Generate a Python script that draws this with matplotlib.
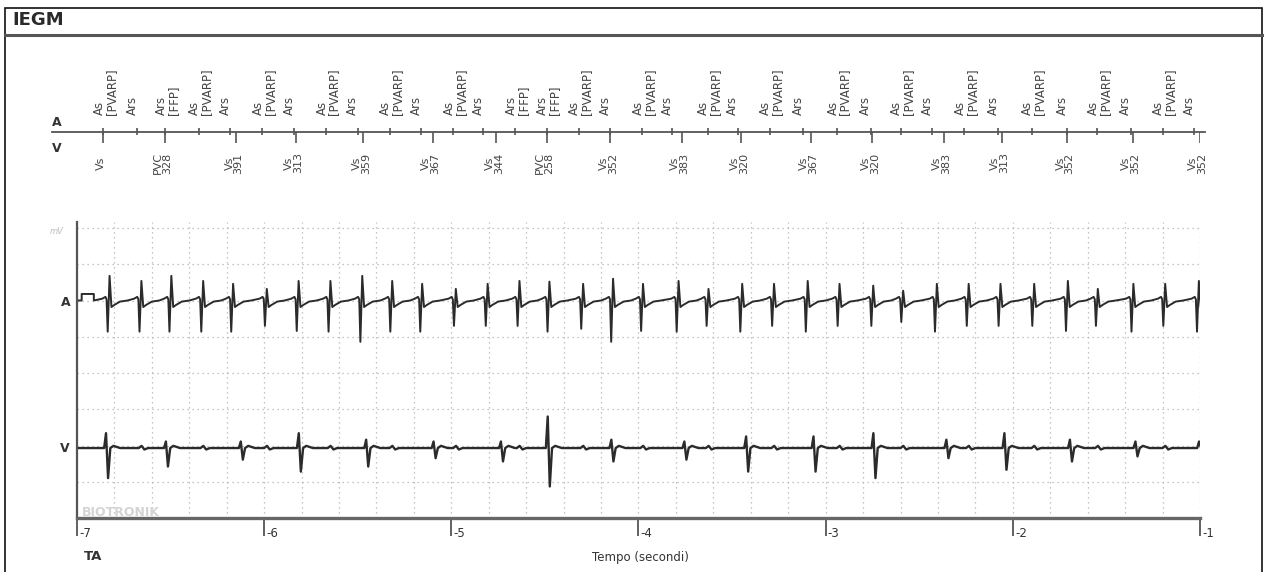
import numpy as np
import matplotlib

matplotlib.use("Agg")
import matplotlib.pyplot as plt
from matplotlib.lines import Line2D
from matplotlib.patches import Rectangle
from matplotlib.ticker import MultipleLocator

W, H = 1265, 572

# --- marker channel (seconds before trigger) ---
a_marker_t = [-6.86, -6.68, -6.53, -6.35, -6.18, -6.01, -5.84, -5.67, -5.50, -5.33,
              -5.16, -4.99, -4.83, -4.66, -4.49, -4.32, -4.15, -3.98, -3.82, -3.63,
              -3.47, -3.30, -3.12, -2.94, -2.76, -2.60, -2.43, -2.26, -2.08, -1.90,
              -1.71, -1.55, -1.37, -1.20, -1.03]
AS, ARS, FFP = "As\n[PVARP]", "Ars", "Ars\n[FFP]"
a_marker_lbl = [AS, ARS, FFP, AS, ARS, AS, ARS, AS, ARS, AS,
                ARS, AS, ARS, FFP, FFP, AS, ARS, AS, ARS, AS,
                ARS, AS, ARS, AS, ARS, AS, ARS, AS, ARS, AS,
                ARS, AS, ARS, AS, ARS]

v_marker_t = [-6.86, -6.53, -6.15, -5.83, -5.47, -5.10, -4.76, -4.49, -4.15, -3.77,
              -3.45, -3.08, -2.75, -2.37, -2.06, -1.71, -1.36, -1.00]
v_marker_lbl = ["Vs", "PVC\n328", "Vs\n391", "Vs\n313", "Vs\n359", "Vs\n367", "Vs\n344",
                "PVC\n258", "Vs\n352", "Vs\n383", "Vs\n320", "Vs\n367", "Vs\n320",
                "Vs\n383", "Vs\n313", "Vs\n352", "Vs\n352", "Vs\n352"]

# --- atrial channel deflections (grid units) ---
a_spike_t = [-6.83, -6.66, -6.50, -6.33, -6.17, -5.99, -5.82, -5.65, -5.48, -5.32,
             -5.16, -4.98, -4.81, -4.64, -4.48, -4.30, -4.14, -3.98, -3.79, -3.63,
             -3.45, -3.28, -3.10, -2.93, -2.75, -2.59, -2.41, -2.24, -2.07, -1.89,
             -1.71, -1.55, -1.36, -1.19, -1.01]
a_spike_up = [0.68, 0.54, 0.68, 0.54, 0.46, 0.32, 0.54, 0.54, 0.68, 0.54,
              0.46, 0.32, 0.46, 0.54, 0.52, 0.46, 0.60, 0.46, 0.54, 0.32,
              0.46, 0.46, 0.54, 0.46, 0.41, 0.27, 0.46, 0.46, 0.46, 0.46,
              0.54, 0.32, 0.46, 0.46, 0.54]
a_spike_down = [0.86, 0.86, 0.86, 0.86, 0.86, 0.70, 0.84, 0.86, 1.14, 0.86,
                0.86, 0.70, 0.70, 0.70, 0.86, 0.78, 1.14, 0.84, 0.86, 0.70,
                0.86, 0.70, 0.86, 0.70, 0.70, 0.59, 0.86, 0.70, 0.70, 0.70,
                0.84, 0.70, 0.86, 0.70, 0.86]
a_pulse_t = [-6.975, -6.91]
a_pulse_h = 0.18

# --- ventricular channel deflections ---
v_spike_t = [-6.84, -6.52, -6.12, -5.81, -5.45, -5.09, -4.73, -4.48, -4.14, -3.75,
             -3.42, -3.06, -2.74, -2.35, -2.04, -1.69, -1.34, -1.00]
v_spike_up = [0.41, 0.18, 0.18, 0.41, 0.23, 0.18, 0.18, 0.87, 0.23, 0.18,
              0.32, 0.32, 0.41, 0.23, 0.41, 0.23, 0.18, 0.18]
v_spike_down = [0.83, 0.51, 0.32, 0.65, 0.51, 0.28, 0.37, 1.06, 0.37, 0.32,
                0.65, 0.65, 0.83, 0.28, 0.60, 0.37, 0.23, 0.0]

time_ticks = [-7, -6, -5, -4, -3, -2, -1]
a_base = 6.0
v_base = 1.93

TRACE = "#2b2b2b"
AXIS = "#555555"
GRID = "#b3b3b3"


def fx(px):
    return px / W


def fy(py):
    return 1 - py / H


def atrial_trace():
    t = [-7.0, a_pulse_t[0], a_pulse_t[0], a_pulse_t[1], a_pulse_t[1]]
    y = [0.0, 0.0, a_pulse_h, a_pulse_h, 0.0]
    for t0, up, dn in zip(a_spike_t, a_spike_up, a_spike_down):
        shape = [(-0.035, 0.05), (-0.018, 0.10), (-0.012, 0.03), (-0.006, -dn),
                 (0.004, up), (0.014, -0.18), (0.03, -0.12), (0.06, -0.03),
                 (0.1, 0.0)]
        for dt, dy in shape:
            t.append(t0 + dt)
            y.append(dy)
    return np.array(t), a_base + np.array(y)


def ventricular_trace():
    knots = [(-7.0, 0.0)]
    for t0, up, dn in zip(v_spike_t, v_spike_up, v_spike_down):
        shape = [(-0.015, 0.0), (-0.005, up), (0.006, -dn), (0.018, 0.0),
                 (0.035, 0.06), (0.07, 0.0)]
        knots += [(t0 + dt, dy) for dt, dy in shape]
    # small far-field atrial wiggles on the ventricular lead
    vt = np.array(v_spike_t)
    for ta in a_spike_t:
        if np.min(np.abs(vt - ta)) < 0.09:
            continue
        knots += [(ta + dt, dy) for dt, dy in
                  [(-0.01, 0.0), (0.005, 0.06), (0.02, -0.04), (0.04, 0.0)]]
    knots.sort()
    t, y = zip(*knots)
    return np.array(t), v_base + np.array(y)


fig = plt.figure(figsize=(W / 100, H / 100), dpi=100)
fig.patch.set_facecolor("white")

# frame + header
fig.add_artist(Rectangle((fx(5), fy(590)), fx(1262) - fx(5), fy(8) - fy(590),
                         transform=fig.transFigure, fill=False, edgecolor="#111111",
                         linewidth=1.2))
fig.add_artist(Line2D([fx(5), fx(1262)], [fy(35), fy(35)], transform=fig.transFigure,
                      color=AXIS, linewidth=2.2))
fig.text(fx(12), fy(20), "IEGM", fontsize=13, fontweight="bold", color="#2a2a2a",
         ha="left", va="center")

# --- marker axis ---
axm = fig.add_axes([fx(77), fy(204), fx(1200) - fx(77), 144 / H])
axm.set_xlim(-7, -1)
axm.set_ylim(-1, 1)
axm.axis("off")
axm.axhline(0, xmin=(52 - 77) / 1123, xmax=(1205 - 77) / 1123, color=AXIS,
            linewidth=1.3, clip_on=False)
axm.vlines(a_marker_t, -0.045, 0.05, color=AXIS, linewidth=1.2)
axm.vlines(v_marker_t, -0.15, 0, color=AXIS, linewidth=1.2)
for t, lbl in zip(a_marker_t, a_marker_lbl):
    dx = 1.5 if "\n" in lbl else -3.5
    axm.annotate(lbl, (t, 0.236), xytext=(dx, 0), textcoords="offset points",
                 rotation=90, ha="center", va="bottom", multialignment="left",
                 fontsize=8.5, linespacing=0.9, color="#444444")
for t, lbl in zip(v_marker_t, v_marker_lbl):
    axm.annotate(lbl, (t, -0.43), xytext=(-1.5, 0), textcoords="offset points",
                 rotation=90, ha="center", va="center", multialignment="center",
                 fontsize=8, linespacing=0.9, color="#444444")
fig.text(fx(57), fy(123), "A", fontsize=9, fontweight="bold", color="#333333",
         ha="center", va="center")
fig.text(fx(57), fy(148), "V", fontsize=9, fontweight="bold", color="#333333",
         ha="center", va="center")

# --- IEGM traces ---
ax = fig.add_axes([fx(77), fy(518), fx(1200) - fx(77), 296 / H])
ax.set_xlim(-7, -1)
ax.set_ylim(0, 296 / 36.25)
ax.set_xticks(time_ticks)
ax.xaxis.set_minor_locator(MultipleLocator(0.2))
ax.set_yticks(range(1, 9))
ax.set_axisbelow(True)
ax.grid(which="both", color=GRID, linestyle=(0, (1, 3)), linewidth=0.9)
ax.tick_params(axis="y", left=False, labelleft=False)
ax.tick_params(axis="x", which="minor", bottom=False)
ax.tick_params(axis="x", which="major", length=13, width=1.3, color=AXIS,
               labelbottom=False)
for side in ("top", "right"):
    ax.spines[side].set_visible(False)
ax.spines["left"].set_color(AXIS)
ax.spines["left"].set_linewidth(1.6)
ax.spines["bottom"].set_color("#666666")
ax.spines["bottom"].set_linewidth(2.4)

ta, ya = atrial_trace()
tv, yv = ventricular_trace()
ax.plot(ta, ya, color=TRACE, linewidth=1.4)
ax.plot(tv, yv, color=TRACE, linewidth=1.7)

for t in time_ticks:
    ax.annotate(f"{t}", (t, 0), xycoords=ax.get_xaxis_transform(), xytext=(1.5, -11),
                textcoords="offset points", ha="left", va="center", fontsize=8.5,
                color="#333333", annotation_clip=False)

fig.text(fx(66), fy(303), "A", fontsize=9, fontweight="bold", color="#333333",
         ha="center", va="center")
fig.text(fx(65), fy(449), "V", fontsize=9, fontweight="bold", color="#333333",
         ha="center", va="center")
fig.text(fx(57), fy(231), "mV", fontsize=6, style="italic", color="#bbbbbb",
         ha="center", va="center")
fig.text(fx(82), fy(512), "BIOTRONIK", fontsize=9, fontweight="bold", color="#d4d4d4",
         ha="left", va="center")

fig.text(fx(84), fy(557), "TA", fontsize=9.5, fontweight="bold", color="#333333",
         ha="left", va="center")
fig.text(fx(640), fy(557), "Tempo (secondi)", fontsize=8.5, color="#333333",
         ha="center", va="center")

fig.savefig("out.png", dpi=100, facecolor="white")
